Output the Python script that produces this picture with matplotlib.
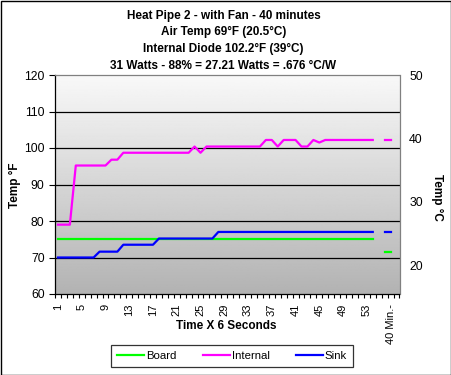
import numpy as np
import matplotlib
matplotlib.use("Agg")
import matplotlib.pyplot as plt
from matplotlib.lines import Line2D
from matplotlib.patches import Rectangle

plt.rcParams['font.family'] = ['Liberation Sans', 'DejaVu Sans']

# Data (deg F), categories 1..54, then the "40 Min." readings
board = [75.2, 75.2, 75.2, 75.2, 75.2, 75.2, 75.2, 75.2, 75.2, 75.2,
         75.2, 75.2, 75.2, 75.2, 75.2, 75.2, 75.2, 75.2, 75.2, 75.2,
         75.2, 75.2, 75.2, 75.2, 75.2, 75.2, 75.2, 75.2, 75.2, 75.2,
         75.2, 75.2, 75.2, 75.2, 75.2, 75.2, 75.2, 75.2, 75.2, 75.2,
         75.2, 75.2, 75.2, 75.2, 75.2, 75.2, 75.2, 75.2, 75.2, 75.2,
         75.2, 75.2, 75.2, 75.2]
internal = [79.0, 79.0, 79.0, 95.2, 95.2, 95.2, 95.2, 95.2, 95.2, 96.8,
            96.8, 98.7, 98.7, 98.7, 98.7, 98.7, 98.7, 98.7, 98.7, 98.7,
            98.7, 98.7, 98.7, 100.4, 98.7, 100.4, 100.4, 100.4, 100.4, 100.4,
            100.4, 100.4, 100.4, 100.4, 100.4, 102.2, 102.2, 100.4, 102.2, 102.2,
            102.2, 100.4, 100.4, 102.2, 101.5, 102.2, 102.2, 102.2, 102.2, 102.2,
            102.2, 102.2, 102.2, 102.2]
sink = [70.0, 70.0, 70.0, 70.0, 70.0, 70.0, 70.0, 71.6, 71.6, 71.6,
        71.6, 73.5, 73.5, 73.5, 73.5, 73.5, 73.5, 75.2, 75.2, 75.2,
        75.2, 75.2, 75.2, 75.2, 75.2, 75.2, 75.2, 77.0, 77.0, 77.0,
        77.0, 77.0, 77.0, 77.0, 77.0, 77.0, 77.0, 77.0, 77.0, 77.0,
        77.0, 77.0, 77.0, 77.0, 77.0, 77.0, 77.0, 77.0, 77.0, 77.0,
        77.0, 77.0, 77.0, 77.0]
end_cats = [56, 57]
board_end = [71.6, 71.6]
internal_end = [102.2, 102.2]
sink_end = [77.0, 77.0]

n_cats = 58
label_cats = [1, 5, 9, 13, 17, 21, 25, 29, 33, 37, 41, 45, 49, 53, 57]
label_text = ['1', '5', '9', '13', '17', '21', '25', '29', '33', '37',
              '41', '45', '49', '53', '40 Min.-']

titles = ["Heat Pipe 2 - with Fan - 40 minutes",
          "Air Temp 69°F (20.5°C)",
          "Internal Diode 102.2°F (39°C)",
          "31 Watts - 88% = 27.21 Watts = .676 °C/W"]

W, H = 451, 375
fig = plt.figure(figsize=(W / 100, H / 100), dpi=100)
ax = fig.add_axes([55 / W, 1 - 294 / H, 344.5 / W, 219 / H])

# gray gradient background
grad = np.linspace(0.70, 0.975, 256).reshape(-1, 1)
ax.imshow(grad, extent=[0, 1, 0, 1], transform=ax.transAxes, aspect='auto',
          cmap='gray', vmin=0, vmax=1, origin='lower', zorder=0)

cats = np.arange(1, len(board) + 1)
ax.plot(cats, board, color='#00ff00', lw=1.6, zorder=3)
ax.plot(cats, internal, color='#ff00ff', lw=1.6, zorder=4)
ax.plot(cats, sink, color='#0000ff', lw=1.6, zorder=5)
ax.plot(end_cats, board_end, color='#00ff00', lw=1.6, zorder=3)
ax.plot(end_cats, internal_end, color='#ff00ff', lw=1.6, zorder=4)
ax.plot(end_cats, sink_end, color='#0000ff', lw=1.6, zorder=5)

ax.set_xlim(0.5, n_cats + 0.5)
ax.set_ylim(60, 120)
for v in [70, 80, 90, 100, 110]:
    ax.axhline(v, color='black', lw=0.9, zorder=2)

ax.set_yticks([60, 70, 80, 90, 100, 110, 120])
ax.tick_params(axis='y', direction='out', length=4, width=0.8, pad=3.5,
               labelsize=8.8, colors='black')
ax.set_xticks(label_cats)
ax.set_xticklabels(label_text, rotation=90, va='top', ha='center')
ax.tick_params(axis='x', which='major', length=0, pad=7, labelsize=8.0)
ax.set_xticks(np.arange(0.5, n_cats + 1, 1), minor=True)
ax.tick_params(axis='x', which='minor', direction='out', length=3, width=0.8)

ax.spines['left'].set_color('black')
ax.spines['bottom'].set_color('black')
ax.spines['top'].set_color('#808080')
ax.spines['right'].set_color('#808080')
for s in ax.spines.values():
    s.set_linewidth(0.9)

ax2 = ax.twinx()
ax2.set_ylim(15.5, 50)
ax2.set_yticks([20, 30, 40, 50])
ax2.tick_params(axis='y', length=0, pad=7, labelsize=8.8)
for s in ax2.spines.values():
    s.set_visible(False)

for i, t in enumerate(titles):
    fig.text(223.5 / W, 1 - (15.7 + 16.7 * i) / H, t, ha='center', va='center',
             fontsize=8.5, fontweight='bold')

fig.text(15 / W, 1 - 185 / H, 'Temp °F', rotation=90, ha='center', va='center',
         fontsize=8.5, fontweight='bold')
fig.text(437 / W, 1 - 197 / H, 'Temp °C', rotation=270, ha='center', va='center',
         fontsize=8.5, fontweight='bold')
fig.text(226.7 / W, 1 - 325.7 / H, 'Time X 6 Seconds', ha='center', va='center',
         fontsize=8.5, fontweight='bold')

handles = [Line2D([], [], color='#00ff00', lw=1.6),
           Line2D([], [], color='#ff00ff', lw=1.6),
           Line2D([], [], color='#0000ff', lw=1.6)]
leg = fig.legend(handles, ['Board', 'Internal', 'Sink'], ncol=3,
                 loc='center', bbox_to_anchor=(232 / W, 1 - 356 / H),
                 fontsize=8.2, frameon=True, fancybox=False, shadow=False,
                 handlelength=2.4, handletextpad=0.15, columnspacing=2.3,
                 borderpad=0.5, borderaxespad=0)
leg.get_frame().set_edgecolor('black')
leg.get_frame().set_linewidth(0.9)

# black frame around whole picture
fig.add_artist(Rectangle((0.5 / W, 0.5 / H), (W - 1) / W, (H - 1) / H,
                         transform=fig.transFigure, fill=False,
                         edgecolor='black', lw=1.0))

fig.savefig('out.png', dpi=100, facecolor='white')
